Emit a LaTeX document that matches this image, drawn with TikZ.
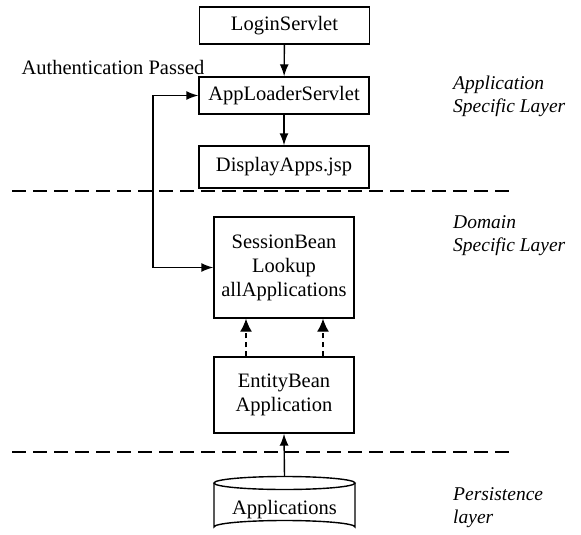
\documentclass[tikz,border=0pt]{standalone}
\usepackage{fontspec}
\setmainfont{Liberation Serif}
\usetikzlibrary{arrows.meta,calc}
\begin{document}
\begin{tikzpicture}[x=1pt,y=-1pt,
  box/.style={draw,line width=1.4pt,minimum width=170pt,minimum height=37pt,inner sep=0pt,font=\fontsize{20.5}{24}\selectfont,align=center},
  bigbox/.style={draw,line width=1.4pt,minimum width=140pt,inner sep=0pt,font=\fontsize{20.5}{24}\selectfont,align=center},
  arr/.style={line width=1.4pt,-{Latex[length=12pt,width=9pt]}},
  darr/.style={line width=1.4pt,dash pattern=on 5pt off 4pt,-{Latex[length=13pt,width=12pt]}},
  layerline/.style={line width=1.5pt,dash pattern=on 14pt off 7pt},
  layerlabel/.style={anchor=west,align=left,inner sep=0pt,font=\fontsize{19.5}{23}\selectfont\itshape},
  lbl/.style={inner sep=0pt,font=\fontsize{20.5}{24}\selectfont}]
\useasboundingbox (0,0) rectangle (581,535);

\node[box] (login) at (284.5,25.5) {LoginServlet};
\node[box] (apploader) at (284,95.5) {AppLoaderServlet};
\node[box,minimum height=42pt] (display) at (284,167) {DisplayApps.jsp};
\node[bigbox,minimum height=101pt] (session) at (284,267.5) {SessionBean\\Lookup\\allApplications};
\node[bigbox,minimum height=76pt] (entity) at (284,395) {EntityBean\\Application};
\node[minimum width=141pt,minimum height=56pt,inner sep=0pt] (apps) at (284.5,505) {};

% cylinder
\draw[line width=1.4pt] (214,483) -- (214,527) arc[start angle=180,end angle=360,x radius=70.5pt,y radius=-6.5pt] -- (355,483);
\draw[line width=1.4pt] (284.5,483) ellipse[x radius=70.5pt,y radius=6.5pt];
\node[lbl] (appslbl) at (284.5,510) {Applications};

\node[lbl] (auth) at (113,67) {Authentication Passed};

\coordinate (lc) at (153,0);
\coordinate (l1a) at (12,191);
\coordinate (l1b) at (512,191);
\coordinate (l2a) at (12,452);
\coordinate (l2b) at (512,452);
\draw[layerline] (l1a) -- (l1b);
\draw[layerline] (l2a) -- (l2b);

\draw[arr] (login) -- (apploader);
\draw[arr] (apploader) -- (display);
\draw[line width=1.4pt,{Latex[length=12pt,width=9pt]}-{Latex[length=12pt,width=9pt]}] (apploader.west) -| (lc |- session.west) -- (session.west);
\draw[darr] ([xshift=-38pt]entity.north) -- ([xshift=-38pt]session.south);
\draw[darr] ([xshift=39pt]entity.north) -- ([xshift=39pt]session.south);
\draw[arr] (apps.north) -- (entity.south);

\node[layerlabel] (lay1) at (453,96.5) {Application\\Specific Layer};
\node[layerlabel] (lay2) at (453,236) {Domain\\Specific Layer};
\node[layerlabel] (lay3) at (453,507.5) {Persistence\\layer};
\end{tikzpicture}
\end{document}
